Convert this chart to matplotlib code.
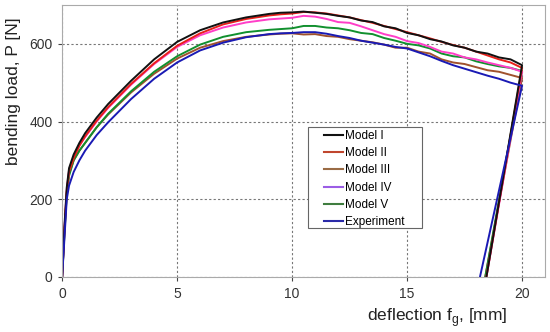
import numpy as np
import matplotlib.pyplot as plt
from matplotlib.lines import Line2D
from matplotlib.patches import Rectangle

plt.rcParams['font.family'] = ['Liberation Sans', 'DejaVu Sans']

# deflection points (mm) for the loading branch
defl = [0, 0.1, 0.2, 0.3, 0.5, 0.75, 1, 1.5, 2, 3, 4, 5, 6, 7, 8,
        9, 9.5, 10, 10.5, 11, 11.5, 12, 12.5, 13, 13.5, 14, 14.5, 15, 15.5,
        16, 16.5, 17, 17.5, 18, 18.5, 19, 19.5, 20]

model_1 = [0, 130, 230, 280, 315, 345, 370, 410, 445, 505, 560, 605, 635, 655, 668,
           677, 680, 681, 683, 680, 677, 672, 668, 660, 656, 645, 640, 628, 622,
           612, 606, 596, 590, 580, 575, 565, 560, 545]
model_2 = [0, 120, 220, 270, 305, 338, 362, 402, 437, 497, 550, 595, 627, 650, 664,
           673, 676, 678, 682, 681, 678, 673, 668, 661, 654, 646, 638, 630, 622,
           614, 605, 597, 590, 580, 570, 560, 552, 538]
model_3 = [0, 115, 215, 265, 300, 325, 345, 385, 418, 475, 523, 562, 590, 607, 618,
           624, 626, 627, 624, 625, 620, 618, 612, 608, 604, 598, 590, 590, 580,
           575, 560, 552, 548, 540, 532, 528, 520, 512]
model_4 = [0, 125, 225, 275, 310, 338, 360, 400, 435, 495, 548, 592, 622, 642, 655,
           663, 665, 667, 672, 670, 664, 656, 654, 645, 635, 625, 618, 607, 602,
           592, 580, 575, 565, 560, 552, 545, 538, 528]
model_5 = [0, 112, 212, 260, 300, 325, 345, 385, 420, 478, 528, 568, 598, 618, 630,
           636, 638, 640, 646, 646, 642, 640, 635, 628, 625, 615, 608, 600, 596,
           588, 575, 568, 565, 555, 548, 542, 538, 530]
experiment = [0, 100, 200, 235, 270, 300, 325, 365, 398, 458, 510, 552, 583, 603, 617,
              625, 627, 628, 630, 630, 626, 620, 615, 608, 603, 598, 592, 588, 578,
              568, 556, 545, 536, 527, 518, 510, 500, 492]

# deflection where unloading line reaches zero
unload_end = [18.45, 18.45, 18.4, 18.45, 18.4, 18.17]

names = ['Model I', 'Model II', 'Model III', 'Model IV', 'Model V', 'Experiment']
series = [model_1, model_2, model_3, model_4, model_5, experiment]
colors = ['#111111', '#e8201a', '#a0522d', '#ff3ec8', '#11902e', '#1a1ab4']
# the legend in the original uses slightly different tones
legend_colors = ['#111111', '#c0462e', '#9a6b45', '#9b5de5', '#3f7d3f', '#2a2aa8']

fig = plt.figure(figsize=(5.5, 3.32), dpi=100)
ax = fig.add_axes([0.113, 0.166, 0.878, 0.819])

# draw experiment last so it sits on top like the original
order = [2, 4, 3, 1, 0, 5]
for i in order:
    x = defl + [unload_end[i]]
    y = series[i] + [0]
    ax.plot(x, y, color=colors[i], lw=1.4)

ax.set_xlim(0, 21)
ax.set_ylim(0, 700)
ax.set_xticks([0, 5, 10, 15, 20])
ax.set_yticks([0, 200, 400, 600])
ax.grid(True, color='#777777', ls=(0, (2, 2)), lw=0.8)
for s in ax.spines.values():
    s.set_color('#aaaaaa')
ax.tick_params(colors='#444444', labelcolor='#333333', labelsize=10, length=3, pad=4)

ax.set_xlabel('deflection f$_\\mathregular{g}$, [mm]', fontsize=12.5, color='#222222',
              va='center')
ax.xaxis.set_label_coords(0.777, -0.151)
ax.set_ylabel('bending load, P [N]', fontsize=12.5, color='#222222', va='center')
ax.yaxis.set_label_coords(-0.100, 0.684)

# legend box
ax.add_patch(Rectangle((0.509, 0.180), 0.236, 0.371, transform=ax.transAxes,
                       facecolor='white', edgecolor='#666666', lw=0.8, zorder=4))
handles = [Line2D([], [], color=c, lw=1.5) for c in legend_colors]
leg = ax.legend(handles, names, loc='upper left', bbox_to_anchor=(0.543, 0.540),
                fontsize=8.5, handlelength=1.6, handletextpad=0.15,
                labelspacing=0.44, frameon=False, borderpad=0, borderaxespad=0)
leg.set_zorder(5)

fig.savefig('out.png', dpi=100)
